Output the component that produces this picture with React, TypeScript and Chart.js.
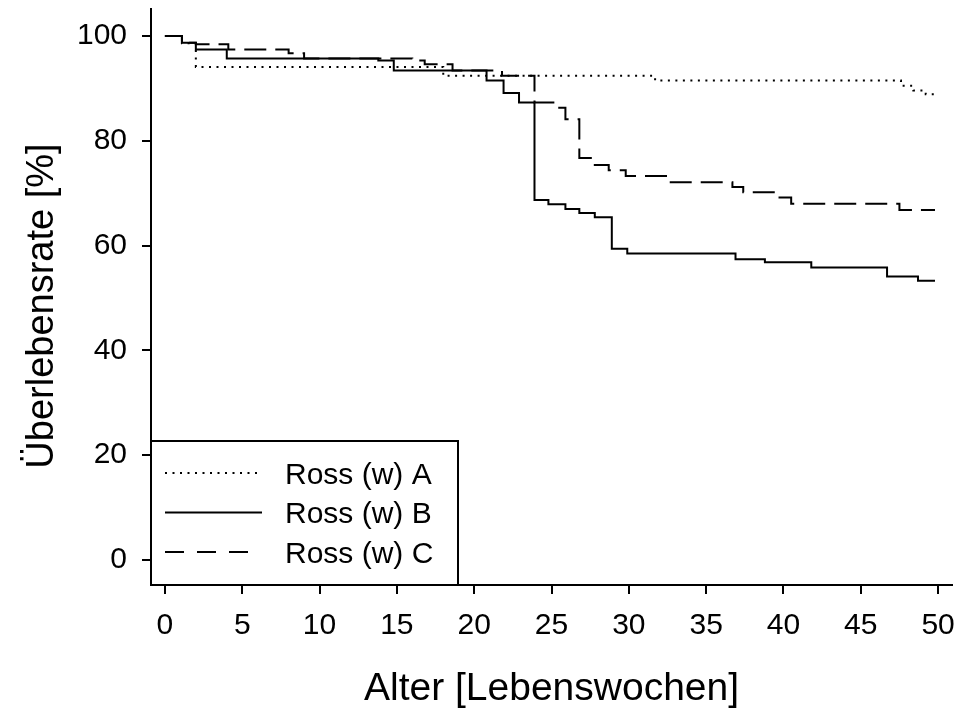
import { useEffect, useRef } from "react";
import { Chart, registerables } from "chart.js";

Chart.register(...registerables);

// ---- data ----
const seriesNames = ["Ross (w) A", "Ross (w) B", "Ross (w) C"];

const weeksA = [0, 1.1, 2.0, 18.0, 31.7, 47.6, 48.4, 49.2, 49.8];
const survivalA = [100, 98.6, 94.1, 92.4, 91.5, 90.5, 89.6, 88.9, 88.9];

const weeksB = [0, 1.1, 2.0, 4.0, 13.8, 14.8, 20.8, 21.9, 22.9, 23.9, 24.8, 25.9, 26.8, 27.8, 28.9, 29.9, 36.9, 38.8, 41.8, 46.7, 48.7, 49.8];
const survivalB = [100, 98.7, 97.4, 95.7, 95.3, 93.4, 91.5, 89.1, 87.3, 68.7, 67.9, 67.0, 66.2, 65.4, 59.4, 58.5, 57.4, 56.8, 55.8, 54.1, 53.3, 53.3];

const weeksC = [0, 1.1, 2.0, 4.1, 8.0, 9.0, 16.0, 16.8, 18.6, 21.8, 23.9, 25.5, 25.9, 26.8, 27.8, 28.7, 29.8, 32.6, 36.7, 37.4, 39.6, 40.5, 47.5, 49.8];
const survivalC = [100, 98.7, 98.4, 97.4, 96.7, 95.7, 95.3, 94.6, 93.4, 92.4, 87.3, 86.3, 84.1, 76.7, 75.4, 74.4, 73.3, 72.1, 71.2, 70.2, 69.2, 68.0, 66.8, 66.8];

const xTicks = [0, 5, 10, 15, 20, 25, 30, 35, 40, 45, 50];
const yTicks = [0, 20, 40, 60, 80, 100];
const xTitle = "Alter [Lebenswochen]";
const yTitle = "Überlebensrate [%]";

// ---- styles ----
const FONT = "'Liberation Sans', Arial, Helvetica, sans-serif";
const lineDashes = [[2, 5.5], [], [22, 9]];
const legendDashes = [[2, 5.5], [], [19, 13]];
const legendLineLengths = [93, 97, 85];

const toPoints = (xs: number[], ys: number[]) => xs.map((x, i) => ({ x, y: ys[i] }));

// y-axis title, drawn slightly below the plot centre as in the reference
const yTitlePlugin = {
  id: "yTitle",
  afterDraw(chart: any) {
    const { ctx, chartArea } = chart;
    const cy = (chartArea.top + chartArea.bottom) / 2 + 9;
    ctx.save();
    ctx.translate(43, cy);
    ctx.rotate(-Math.PI / 2);
    ctx.font = `38px ${FONT}`;
    ctx.fillStyle = "#000000";
    ctx.textAlign = "center";
    ctx.textBaseline = "middle";
    ctx.fillText(yTitle, 0, 0);
    ctx.restore();
  },
};

const boxLegend = {
  id: "boxLegend",
  afterDraw(chart: any) {
    const { ctx, chartArea } = chart;
    const w = 307;
    const h = 144;
    const x0 = chartArea.left;
    const y0 = chartArea.bottom - h;
    ctx.save();
    ctx.fillStyle = "#ffffff";
    ctx.fillRect(x0, y0, w, h);
    ctx.strokeStyle = "#000000";
    ctx.lineWidth = 2;
    ctx.setLineDash([]);
    ctx.strokeRect(x0, y0, w, h);
    ctx.font = `30px ${FONT}`;
    ctx.fillStyle = "#000000";
    ctx.textAlign = "left";
    ctx.textBaseline = "middle";
    seriesNames.forEach((name, i) => {
      const ly = y0 + 32 + i * 39.5;
      ctx.beginPath();
      ctx.setLineDash(legendDashes[i]);
      ctx.lineWidth = 2;
      ctx.lineCap = "butt";
      ctx.moveTo(x0 + 14, ly);
      ctx.lineTo(x0 + 14 + legendLineLengths[i], ly);
      ctx.stroke();
      ctx.setLineDash([]);
      ctx.fillText(name, x0 + 134, ly + 2.5);
    });
    ctx.restore();
  },
};

export default function App() {
  const canvasRef = useRef<HTMLCanvasElement | null>(null);

  useEffect(() => {
    if (!canvasRef.current) return;
    const series = [
      toPoints(weeksA, survivalA),
      toPoints(weeksB, survivalB),
      toPoints(weeksC, survivalC),
    ];
    const chart = new Chart(canvasRef.current, {
      type: "line",
      data: {
        datasets: series.map((data, i) => ({
          label: seriesNames[i],
          data,
          stepped: true,
          borderColor: "#000000",
          backgroundColor: "#000000",
          borderWidth: 2,
          borderDash: lineDashes[i],
          borderCapStyle: "butt",
          pointRadius: 0,
          pointHoverRadius: 0,
          fill: false,
          tension: 0,
        })),
      },
      options: {
        responsive: false,
        maintainAspectRatio: false,
        animation: false,
        devicePixelRatio: 1,
        events: [],
        layout: { padding: { top: 9, right: 3, bottom: 0, left: 0 } },
        plugins: {
          legend: { display: false },
          tooltip: { enabled: false },
          title: { display: false },
        },
        scales: {
          x: {
            type: "linear",
            min: -0.9,
            max: 50.9,
            afterBuildTicks: (scale: any) => {
              scale.ticks = xTicks.map((value) => ({ value }));
            },
            afterFit: (scale: any) => {
              scale.height = 126;
              scale.paddingLeft = 0;
              scale.paddingRight = 0;
              scale.paddingTop = 0;
              scale.paddingBottom = 0;
            },
            grid: {
              display: true,
              drawOnChartArea: false,
              drawTicks: true,
              tickLength: 9,
              color: "#000000",
              lineWidth: 2,
            },
            border: { display: true, color: "#000000", width: 2 },
            ticks: {
              color: "#000000",
              font: { family: FONT, size: 30 },
              padding: 14,
              maxRotation: 0,
              autoSkip: false,
            },
            title: {
              display: true,
              text: xTitle,
              color: "#000000",
              font: { family: FONT, size: 39, lineHeight: 1 },
              padding: { top: 0, bottom: 2 },
            },
          },
          y: {
            type: "linear",
            min: -4.77,
            max: 105.15,
            afterBuildTicks: (scale: any) => {
              scale.ticks = yTicks.map((value) => ({ value }));
            },
            afterFit: (scale: any) => {
              scale.width = 151;
              scale.paddingLeft = 0;
              scale.paddingRight = 0;
              scale.paddingTop = 0;
              scale.paddingBottom = 0;
            },
            grid: {
              display: true,
              drawOnChartArea: false,
              drawTicks: true,
              tickLength: 9,
              color: "#000000",
              lineWidth: 2,
            },
            border: { display: true, color: "#000000", width: 2 },
            ticks: {
              color: "#000000",
              font: { family: FONT, size: 30 },
              padding: 15,
              autoSkip: false,
            },
            title: { display: false, text: yTitle },
          },
        },
      },
      plugins: [yTitlePlugin, boxLegend],
    } as any);
    return () => chart.destroy();
  }, []);

  return (
    <div style={{ position: "absolute", left: 0, top: 0, width: 955, height: 711, background: "#ffffff" }}>
      <canvas ref={canvasRef} width={955} height={711} style={{ display: "block" }} />
    </div>
  );
}
